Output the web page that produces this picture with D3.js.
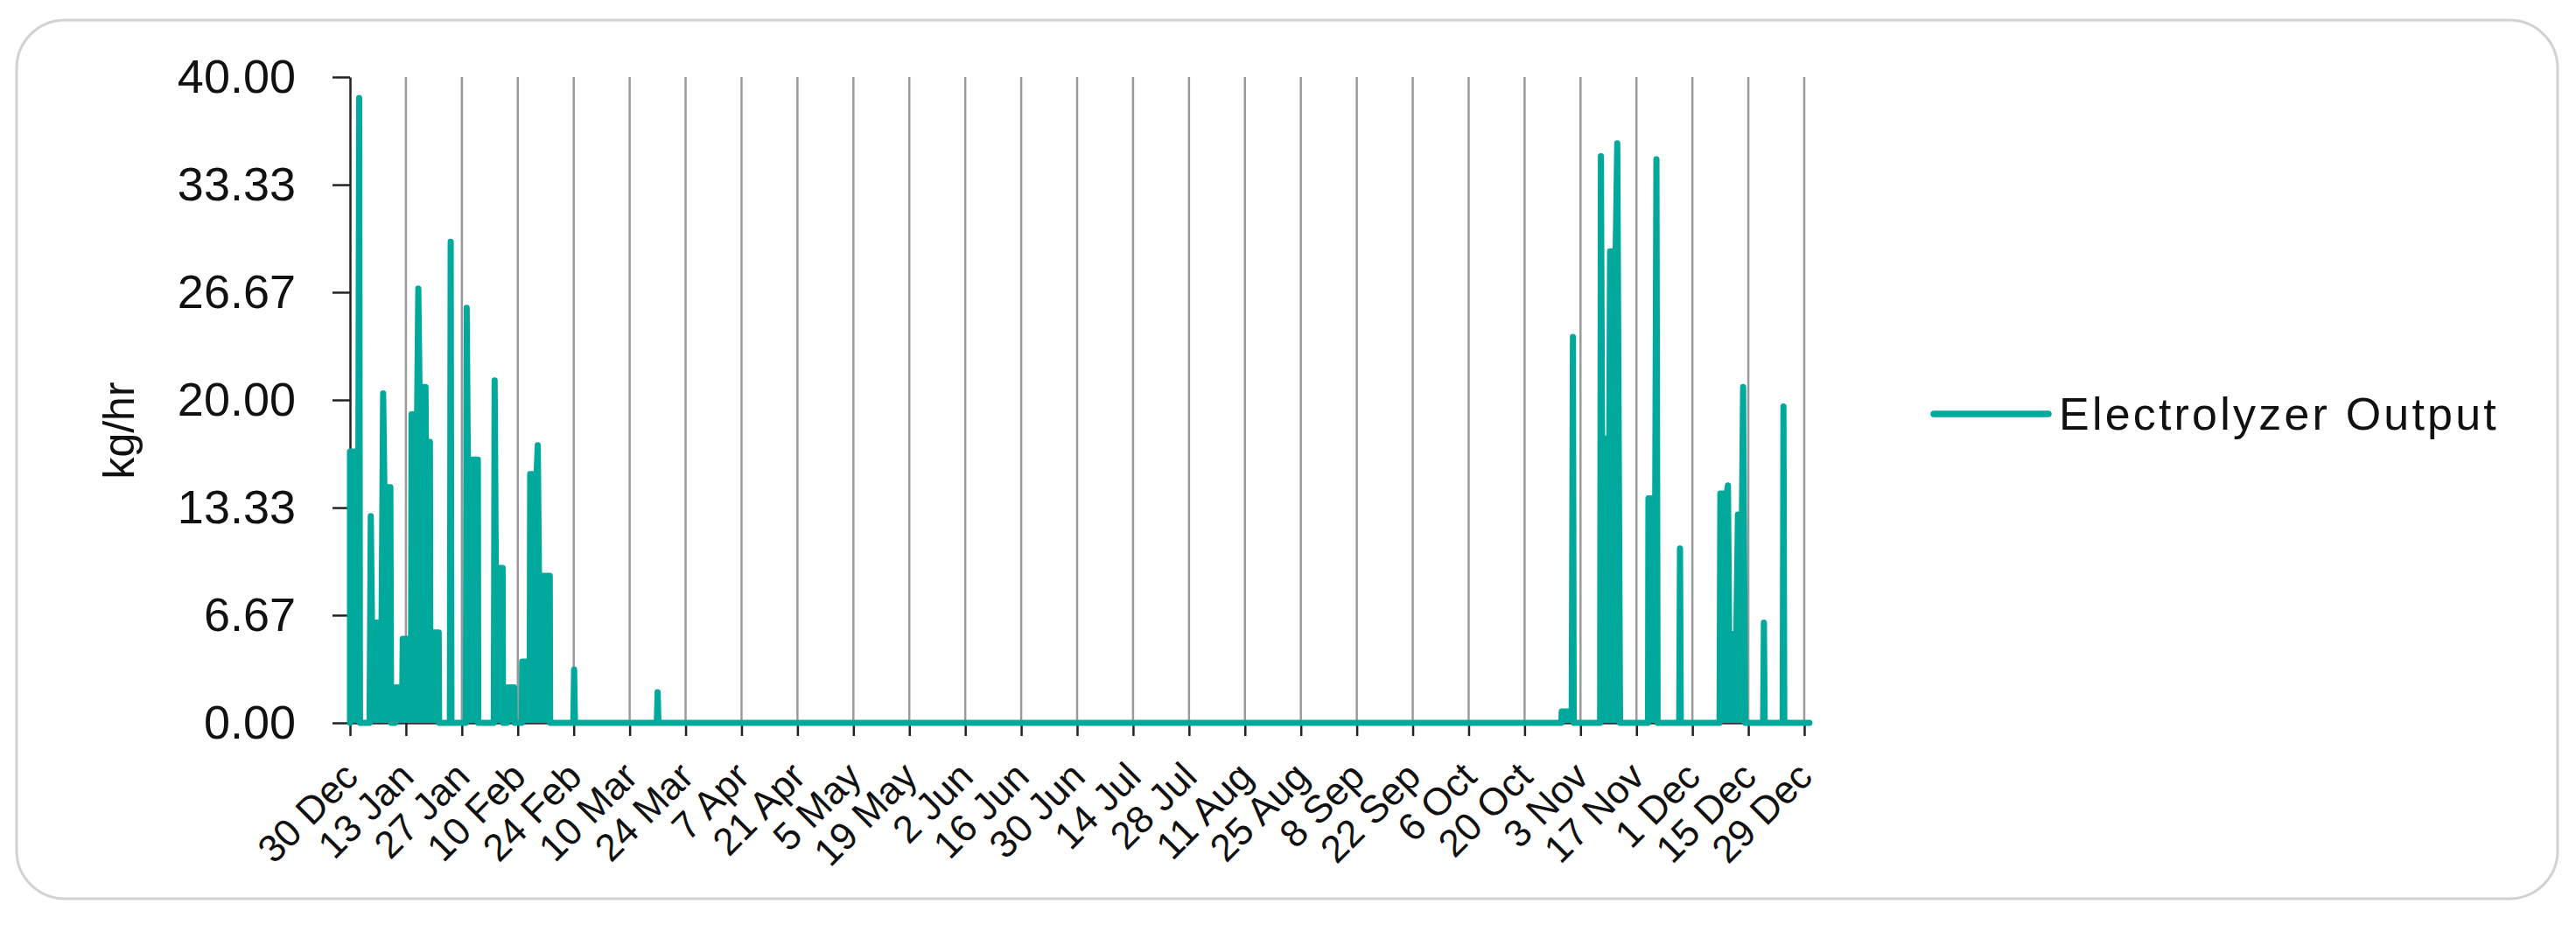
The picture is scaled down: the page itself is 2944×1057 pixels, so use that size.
<!DOCTYPE html>
<html>
<head>
<meta charset="utf-8">
<script src="https://cdn.jsdelivr.net/npm/d3@7"></script>
<style>
  html, body { margin: 0; padding: 0; background: #fff; }
  svg { display: block; font-family: "Liberation Sans", Arial, sans-serif; }
</style>
</head>
<body>
<div id="chart"></div>
<script>
const width = 2944, height = 1057;

// [days since 30 Dec 2018, kg/hr]
const decJanOutput = [
  [0, 0], [0, 16.8], [2.1, 16.8], [2.3, 38.7], [2.5, 0],
  [4.9, 0], [5.2, 12.8], [5.5, 6.2], [7.9, 6.2], [8.3, 20.4], [8.6, 14.6], [10.1, 14.6], [10.3, 0],
  [11.3, 0], [11.4, 2.2], [13.1, 2.2], [13.2, 5.2], [15.3, 5.2], [15.4, 19.1], [16.8, 19.1], [17.1, 26.9], [17.4, 20.8], [18.9, 20.8], [19.0, 17.4], [20.0, 17.4], [20.1, 5.6], [22.2, 5.6], [22.3, 0],
  [25.0, 0], [25.2, 29.8], [25.4, 0]
];
const febOutput = [
  [29.0, 0], [29.2, 25.7], [29.5, 16.3], [32.0, 16.3], [32.1, 0],
  [36.0, 0], [36.2, 21.2], [36.5, 9.6], [38.2, 9.6], [38.3, 0],
  [39.3, 0], [39.4, 2.2], [41.1, 2.2], [41.2, 0],
  [43.0, 0], [43.1, 3.8], [45.0, 3.8], [45.1, 15.4], [46.7, 15.4], [47.0, 17.2], [47.3, 9.1], [50.0, 9.1], [50.1, 0]
];
const marOutput = [
  [55.9, 0], [56.1, 3.3], [56.3, 0],
  [76.8, 0], [77.0, 1.9], [77.2, 0]
];
const novOutput = [
  [303.2, 0], [303.3, 0.7], [305.8, 0.7], [306.1, 23.9], [306.3, 0],
  [312.9, 0], [313.1, 35.1], [313.4, 17.6], [315.2, 17.6], [315.4, 29.2], [316.8, 29.2], [317.2, 35.9], [317.9, 0],
  [324.9, 0], [325.0, 13.9], [326.7, 13.9], [327.0, 34.9], [327.3, 0],
  [332.7, 0], [332.9, 10.8], [333.1, 0]
];
const decOutput = [
  [342.8, 0], [343.0, 14.2], [344.6, 14.2], [344.9, 14.7], [345.2, 5.5], [347.0, 5.5], [347.4, 12.9], [348.4, 12.9], [348.7, 20.8], [349.2, 0],
  [353.7, 0], [353.9, 6.2], [354.1, 0],
  [358.6, 0], [358.8, 19.6], [359.0, 0],
  [365.3, 0]
];

const tickLabels = ["30 Dec", "13 Jan", "27 Jan", "10 Feb", "24 Feb", "10 Mar", "24 Mar", "7 Apr",
  "21 Apr", "5 May", "19 May", "2 Jun", "16 Jun", "30 Jun", "14 Jul", "28 Jul", "11 Aug", "25 Aug",
  "8 Sep", "22 Sep", "6 Oct", "20 Oct", "3 Nov", "17 Nov", "1 Dec", "15 Dec", "29 Dec"];
const yTicks = [0, 6.67, 13.33, 20, 26.67, 33.33, 40];
const seriesName = "Electrolyzer Output";
const teal = "#00a99c";

const start = Date.UTC(2018, 11, 30);
const toDate = d => new Date(start + d * 864e5);
const series = [...decJanOutput, ...febOutput, ...marOutput, ...novOutput, ...decOutput];
const tickDates = tickLabels.map((_, i) => toDate(14 * i));

const x = d3.scaleUtc().domain([toDate(0), toDate(364)]).range([400, 2062]);
const y = d3.scaleLinear().domain([0, 40]).range([826, 88]);

const svg = d3.select("#chart").append("svg")
    .attr("width", width)
    .attr("height", height);

// card frame
svg.append("rect")
    .attr("x", 19).attr("y", 23)
    .attr("width", 2904).attr("height", 1004)
    .attr("rx", 55)
    .attr("fill", "#fff")
    .attr("stroke", "#d2d2d2")
    .attr("stroke-width", 3);

// vertical gridlines
svg.append("g")
    .selectAll("line")
    .data(tickDates.slice(1))
    .enter().append("line")
    .attr("x1", d => x(d)).attr("x2", d => x(d))
    .attr("y1", y(40)).attr("y2", y(0))
    .attr("stroke", "#9a9a9a")
    .attr("stroke-width", 2.5);

const xAxis = svg.append("g")
    .attr("transform", `translate(0,${y(0)})`)
    .call(d3.axisBottom(x)
        .tickValues(tickDates)
        .tickSize(15)
        .tickSizeOuter(0)
        .tickFormat((d, i) => tickLabels[i]));
xAxis.select(".domain").attr("stroke", "#333").attr("stroke-width", 2.5);
xAxis.selectAll(".tick line").attr("stroke", "#222").attr("stroke-width", 2.5);
xAxis.selectAll(".tick text")
    .attr("x", 0).attr("y", 0).attr("dy", 0)
    .attr("text-anchor", "end")
    .attr("transform", "translate(11,64) rotate(-45)")
    .attr("font-size", 44)
    .attr("fill", "#111");

const yAxis = svg.append("g")
    .attr("transform", `translate(${x.range()[0]},0)`)
    .call(d3.axisLeft(y)
        .tickValues(yTicks)
        .tickSize(20)
        .tickSizeOuter(0)
        .tickPadding(42)
        .tickFormat(d3.format(".2f")));
yAxis.select(".domain").attr("stroke", "#222").attr("stroke-width", 2.5);
yAxis.selectAll(".tick line").attr("stroke", "#222").attr("stroke-width", 2.5);
yAxis.selectAll(".tick text")
    .attr("font-size", 54)
    .attr("fill", "#111");

svg.append("text")
    .attr("transform", "translate(153,492) rotate(-90)")
    .attr("text-anchor", "middle")
    .attr("font-size", 50)
    .attr("fill", "#111")
    .text("kg/hr");

// series
svg.append("path")
    .datum(series)
    .attr("fill", teal)
    .attr("d", d3.area()
        .x(d => x(toDate(d[0])))
        .y0(y(0))
        .y1(d => y(d[1])));

svg.append("path")
    .datum(series)
    .attr("fill", "none")
    .attr("stroke", teal)
    .attr("stroke-width", 7)
    .attr("stroke-linejoin", "round")
    .attr("stroke-linecap", "round")
    .attr("d", d3.line()
        .x(d => x(toDate(d[0])))
        .y(d => y(d[1])));

// legend
const legend = svg.append("g").attr("transform", "translate(2210,473)");
legend.append("line")
    .attr("x1", 0).attr("x2", 131)
    .attr("stroke", teal)
    .attr("stroke-width", 7.5)
    .attr("stroke-linecap", "round");
legend.append("text")
    .attr("x", 143).attr("y", 18)
    .attr("font-size", 52)
    .attr("letter-spacing", 3.2)
    .attr("fill", "#111")
    .text(seriesName);
</script>
</body>
</html>
